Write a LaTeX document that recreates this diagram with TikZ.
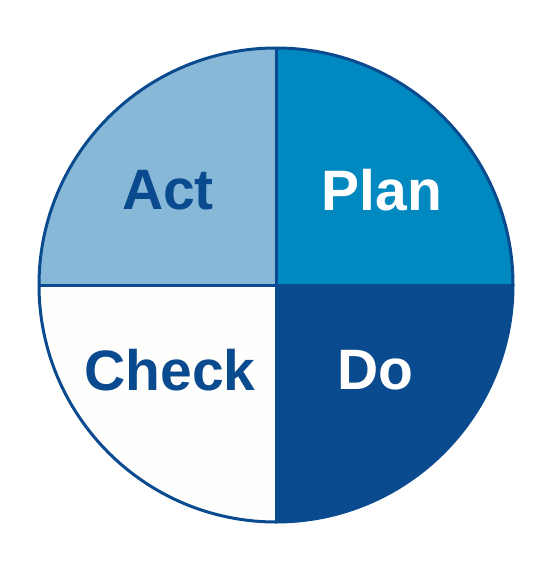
\documentclass[tikz,border=0pt]{standalone}
\usepackage{fontspec}
\setmainfont{Liberation Sans}
\definecolor{plan}{HTML}{0088C0}
\definecolor{act}{HTML}{88B8D8}
\definecolor{dob}{HTML}{0A4A8E}
\definecolor{chk}{HTML}{FEFEFC}
\begin{document}
\begin{tikzpicture}[x=1pt,y=-1pt,
  lbl/.style={font=\bfseries\fontsize{57}{57}\selectfont},
  q/.style={draw=dob,line width=3pt,line join=round}]
\useasboundingbox (0,0) rectangle (558,586);
\coordinate (c) at (276,285);
\fill[plan] (c) -- (276,48) arc[start angle=-90,end angle=0,radius=237] -- cycle;
\fill[dob] (c) -- (513,285) arc[start angle=0,end angle=90,radius=237] -- cycle;
\fill[chk] (c) -- (276,522) arc[start angle=90,end angle=180,radius=237] -- cycle;
\fill[act] (c) -- (39,285) arc[start angle=180,end angle=270,radius=237] -- cycle;
\draw[q] (c) circle[radius=237];
\draw[q] (276,48) -- (276,522);
\draw[q] (39,285) -- (513,285);
\node[lbl,text=dob] (act) at (168,190) {Act};
\node[lbl,text=white] (plan) at (382,190) {Plan};
\node[lbl,text=dob] (check) at (170,370) {Check};
\node[lbl,text=white] (do) at (375,370) {Do};
\end{tikzpicture}
\end{document}
